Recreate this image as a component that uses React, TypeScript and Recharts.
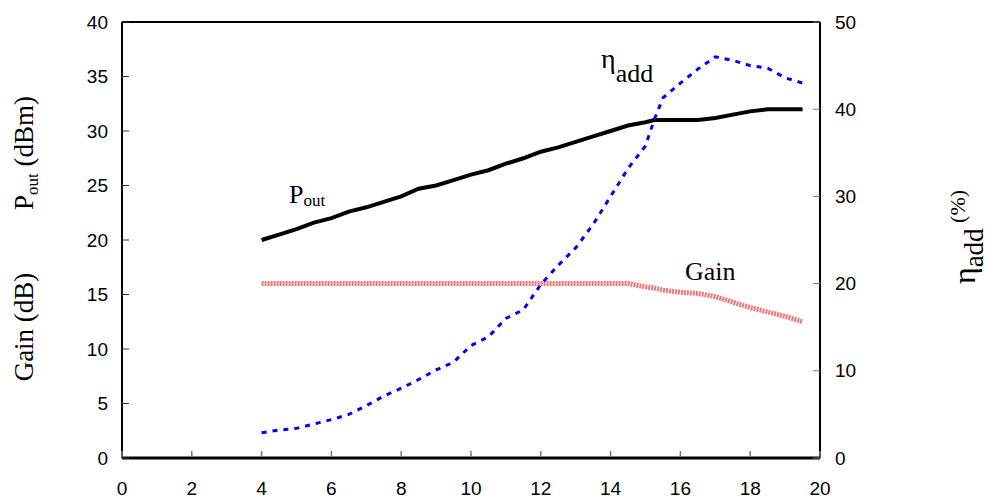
import React from "react";
import { LineChart, Line, XAxis, YAxis, ReferenceLine } from "recharts";

// input power (dBm)
const pin = [
  4, 4.5, 5, 5.5, 6, 6.5, 7, 7.5, 8, 8.5, 9, 9.5, 10, 10.5, 11, 11.5, 12, 12.5,
  13, 13.5, 14, 14.5, 15, 15.25, 15.5, 16, 16.5, 17, 17.5, 18, 18.5, 19, 19.5,
];
const pout = [
  20.0, 20.5, 21.0, 21.6, 22.0, 22.6, 23.0, 23.5, 24.0, 24.7, 25.0, 25.5, 26.0,
  26.4, 27.0, 27.5, 28.1, 28.5, 29.0, 29.5, 30.0, 30.5, 30.8, 31.0, 31.0, 31.0,
  31.0, 31.2, 31.5, 31.8, 32.0, 32.0, 32.0,
];
const gain = [
  16.0, 16.0, 16.0, 16.0, 16.0, 16.0, 16.0, 16.0, 16.0, 16.0, 16.0, 16.0, 16.0,
  16.0, 16.0, 16.0, 16.0, 16.0, 16.0, 16.0, 16.0, 16.0, 15.7, 15.6, 15.4, 15.2,
  15.1, 14.8, 14.3, 13.8, 13.4, 13.0, 12.5,
];
const eta = [
  2.9, 3.2, 3.4, 3.9, 4.4, 5.0, 6.0, 7.1, 8.0, 9.0, 10.1, 11.0, 12.9, 13.9, 16.0,
  17.0, 19.9, 22.1, 24.1, 26.8, 30.0, 33.2, 35.8, 38.8, 41.3, 43.0, 44.6, 46.0,
  45.6, 45.0, 44.7, 43.6, 43.0,
];

const xTicks = [0, 2, 4, 6, 8, 10, 12, 14, 16, 18, 20];
const leftTicks = [0, 5, 10, 15, 20, 25, 30, 35, 40];
const rightTicks = [0, 10, 20, 30, 40, 50];

const rows = pin.map((x, i) => ({ pin: x, pout: pout[i], gain: gain[i], eta: eta[i] }));

const SANS = "'Liberation Sans', Arial, sans-serif";
const SERIF = "'Liberation Serif', 'Times New Roman', serif";

function BottomTick({ x, y, payload }: any) {
  return (
    <g>
      <line x1={x} y1={y - 1} x2={x} y2={y - 7} stroke="#777" strokeWidth={1.5} />
      <text x={x} y={y + 37} textAnchor="middle" fontSize={19} fontFamily={SANS} fill="#000">
        {payload.value}
      </text>
    </g>
  );
}

function LeftTick({ x, y, payload }: any) {
  return (
    <g>
      <line x1={x} y1={y} x2={x + 7} y2={y} stroke="#333" strokeWidth={1} />
      <text x={x - 14} y={y} dy="0.35em" textAnchor="end" fontSize={19} fontFamily={SANS} fill="#000">
        {payload.value}
      </text>
    </g>
  );
}

function RightTick({ x, y, payload }: any) {
  return (
    <g>
      <line x1={x} y1={y} x2={x - 7} y2={y} stroke="#777" strokeWidth={1} />
      <text x={x + 15} y={y} dy="0.35em" textAnchor="start" fontSize={19} fontFamily={SANS} fill="#000">
        {payload.value}
      </text>
    </g>
  );
}

export default function App() {
  return (
    <div style={{ position: "absolute", left: 0, top: 0, width: 1006, height: 502, background: "#fff" }}>
      <LineChart width={1006} height={502} data={rows} margin={{ top: 22, right: 126, bottom: 14, left: 62 }}>
        <XAxis
          dataKey="pin"
          type="number"
          domain={[0, 20]}
          ticks={xTicks}
          height={30}
          tickSize={0}
          tickMargin={0}
          tickLine={false}
          axisLine={{ stroke: "#000", strokeWidth: 3 }}
          tick={<BottomTick />}
        />
        <YAxis
          yAxisId="left"
          domain={[0, 40]}
          ticks={leftTicks}
          width={60}
          tickSize={0}
          tickMargin={0}
          tickLine={false}
          axisLine={{ stroke: "#000", strokeWidth: 2 }}
          tick={<LeftTick />}
        />
        <YAxis
          yAxisId="right"
          orientation="right"
          domain={[0, 50]}
          ticks={rightTicks}
          width={60}
          tickSize={0}
          tickMargin={0}
          tickLine={false}
          axisLine={{ stroke: "#000", strokeWidth: 2 }}
          tick={<RightTick />}
        />
        <ReferenceLine yAxisId="left" y={40} stroke="#000" strokeWidth={2} />
        <Line
          yAxisId="left"
          dataKey="gain"
          type="linear"
          stroke="#ee7676"
          strokeWidth={5}
          strokeDasharray="2 1"
          dot={false}
          isAnimationActive={false}
        />
        <Line
          yAxisId="left"
          dataKey="pout"
          type="linear"
          stroke="#000"
          strokeWidth={4}
          dot={false}
          isAnimationActive={false}
        />
        <Line
          yAxisId="right"
          dataKey="eta"
          type="linear"
          stroke="#0000ff"
          strokeWidth={3}
          strokeDasharray="5 6"
          dot={false}
          isAnimationActive={false}
        />
      </LineChart>
      <svg
        width={1006}
        height={502}
        style={{ position: "absolute", left: 0, top: 0, pointerEvents: "none" }}
      >
        <text transform="translate(33,153) rotate(-90)" textAnchor="middle" fontSize={27} fontFamily={SERIF} fill="#000">
          P<tspan fontSize={17} dy={5}>out</tspan>
          <tspan fontSize={27} dy={-5}> (dBm)</tspan>
        </text>
        <text transform="translate(33,327) rotate(-90)" textAnchor="middle" fontSize={27} fontFamily={SERIF} fill="#000">
          Gain (dB)
        </text>
        <text transform="translate(975,237) rotate(-90)" textAnchor="middle" fontSize={32} fontFamily={SERIF} fill="#000">
          η<tspan fontSize={27} dy={8}>add</tspan>
          <tspan fontSize={22} dy={-18}> (%)</tspan>
        </text>
        <text x={289} y={203} fontSize={26} fontFamily={SERIF} fill="#000">
          P<tspan fontSize={17} dy={3}>out</tspan>
        </text>
        <text x={601} y={68} fontSize={28} fontFamily={SERIF} fill="#000">
          η<tspan fontSize={26} dy={14}>add</tspan>
        </text>
        <text x={685} y={280} fontSize={26} fontFamily={SERIF} fill="#000">
          Gain
        </text>
      </svg>
    </div>
  );
}
